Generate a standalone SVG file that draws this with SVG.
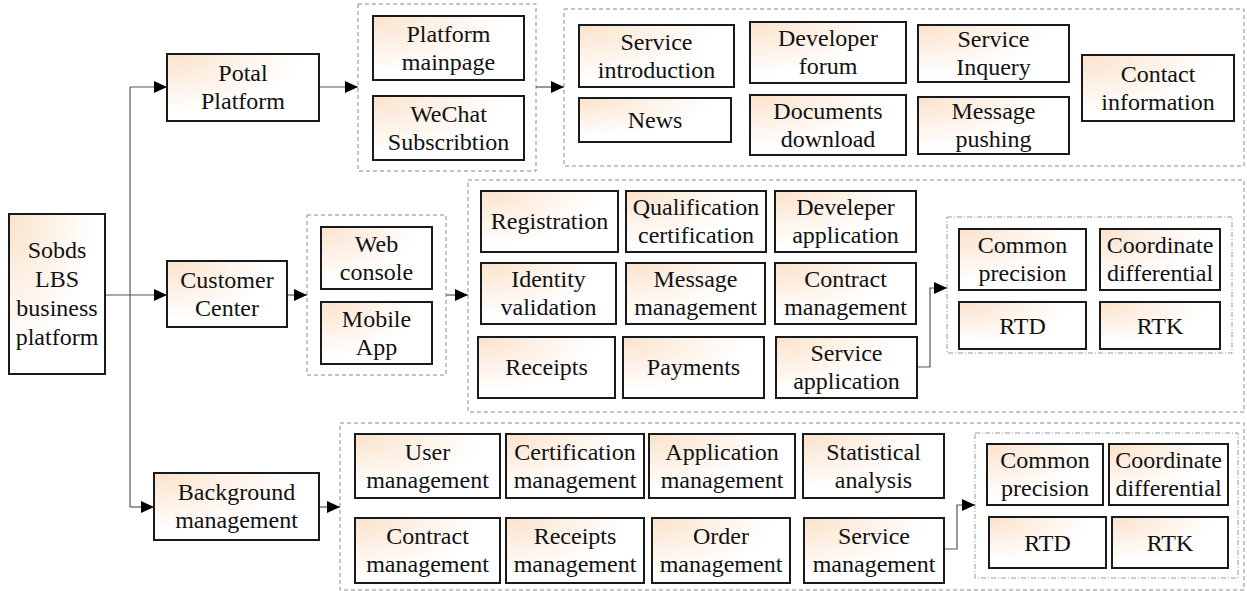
<svg xmlns="http://www.w3.org/2000/svg" width="1247" height="591" viewBox="0 0 1247 591">
  <defs>
    <radialGradient id="boxFill" cx="0" cy="0" r="1.1" fx="0" fy="0">
      <stop offset="0" stop-color="#fbe2ca"/>
      <stop offset="0.4" stop-color="#fdf1e6"/>
      <stop offset="0.8" stop-color="#ffffff"/>
    </radialGradient>
    <marker id="arrow" markerUnits="userSpaceOnUse" markerWidth="13" markerHeight="12" refX="13" refY="6" orient="auto">
      <path d="M0,0 L13,6 L0,12 z" fill="#000"/>
    </marker>
  </defs>
  <style>
    .box { fill: url(#boxFill); stroke: #1a1a1a; stroke-width: 2; }
    .grp { fill: none; stroke: #8a8a8a; stroke-width: 1; stroke-dasharray: 4 3; }
    .sub { fill: none; stroke: #9a9a9a; stroke-width: 1; stroke-dasharray: 5 2 1 2; }
    .lbl { font-family: "Liberation Serif", "Times New Roman", serif; font-size: 24px; fill: #111; text-anchor: middle; }
    .wire { fill: none; stroke: #555; stroke-width: 1.2; }
    .wire.arr { marker-end: url(#arrow); }
  </style>
  <rect width="1247" height="591" fill="#ffffff"/>

  <!-- group frames -->
  <g id="frames">
    <rect class="grp" x="358" y="4" width="178" height="167"/>
    <rect class="grp" x="564" y="9" width="680" height="157"/>
    <rect class="grp" x="307" y="215" width="139" height="160"/>
    <rect class="grp" x="468" y="180" width="776" height="232"/>
    <rect class="sub" x="947" y="217" width="285" height="136"/>
    <rect class="grp" x="340" y="423" width="904" height="167"/>
    <rect class="sub" x="975" y="433" width="263" height="145"/>
  </g>

  <!-- connectors -->
  <g id="connectors">
    <line class="wire" x1="130" y1="87" x2="130" y2="507"/>
    <line class="wire arr" x1="130" y1="87" x2="167" y2="87"/>
    <line class="wire arr" x1="105" y1="295" x2="167" y2="295"/>
    <line class="wire arr" x1="130" y1="507" x2="154" y2="507"/>
    <line class="wire arr" x1="319" y1="87" x2="358" y2="87"/>
    <line class="wire arr" x1="536" y1="87" x2="564" y2="87"/>
    <line class="wire arr" x1="287" y1="295" x2="307" y2="295"/>
    <line class="wire arr" x1="446" y1="295" x2="468" y2="295"/>
    <line class="wire arr" x1="319" y1="507" x2="340" y2="507"/>
    <polyline class="wire arr" points="917,367 930,367 930,288 947,288"/>
    <polyline class="wire arr" points="944,549 957,549 957,505 975,505"/>
  </g>

  <!-- root -->
  <g id="root">
    <rect class="box" x="9" y="214" width="96" height="160"/>
    <text class="lbl" x="57" y="258">Sobds</text>
    <text class="lbl" x="57" y="287">LBS</text>
    <text class="lbl" x="57" y="316">business</text>
    <text class="lbl" x="57" y="345">platform</text>
  </g>

  <!-- first level -->
  <g id="potal-platform">
    <rect class="box" x="167" y="54" width="152" height="67"/>
    <text class="lbl" x="243" y="81">Potal</text>
    <text class="lbl" x="243" y="109">Platform</text>
  </g>
  <g id="customer-center">
    <rect class="box" x="167" y="261" width="120" height="66"/>
    <text class="lbl" x="227" y="288">Customer</text>
    <text class="lbl" x="227" y="316">Center</text>
  </g>
  <g id="background-management">
    <rect class="box" x="154" y="473" width="165" height="67"/>
    <text class="lbl" x="236.5" y="500">Background</text>
    <text class="lbl" x="236.5" y="528">management</text>
  </g>

  <!-- portal channels -->
  <g id="platform-mainpage">
    <rect class="box" x="373" y="16" width="151" height="64"/>
    <text class="lbl" x="448.5" y="42">Platform</text>
    <text class="lbl" x="448.5" y="70">mainpage</text>
  </g>
  <g id="wechat-subscribtion">
    <rect class="box" x="373" y="96" width="151" height="64"/>
    <text class="lbl" x="448.5" y="122">WeChat</text>
    <text class="lbl" x="448.5" y="150">Subscribtion</text>
  </g>

  <!-- portal functions -->
  <g id="service-introduction">
    <rect class="box" x="579" y="25" width="155" height="62"/>
    <text class="lbl" x="656.5" y="50">Service</text>
    <text class="lbl" x="656.5" y="78">introduction</text>
  </g>
  <g id="news">
    <rect class="box" x="579" y="98" width="152" height="44"/>
    <text class="lbl" x="655" y="128">News</text>
  </g>
  <g id="developer-forum">
    <rect class="box" x="750" y="22" width="156" height="61"/>
    <text class="lbl" x="828" y="46">Developer</text>
    <text class="lbl" x="828" y="74">forum</text>
  </g>
  <g id="documents-download">
    <rect class="box" x="750" y="95" width="156" height="60"/>
    <text class="lbl" x="828" y="119">Documents</text>
    <text class="lbl" x="828" y="147">download</text>
  </g>
  <g id="service-inquery">
    <rect class="box" x="918" y="25" width="151" height="57"/>
    <text class="lbl" x="993.5" y="47">Service</text>
    <text class="lbl" x="993.5" y="75">Inquery</text>
  </g>
  <g id="message-pushing">
    <rect class="box" x="918" y="97" width="151" height="57"/>
    <text class="lbl" x="993.5" y="119">Message</text>
    <text class="lbl" x="993.5" y="147">pushing</text>
  </g>
  <g id="contact-information">
    <rect class="box" x="1082" y="55" width="152" height="66"/>
    <text class="lbl" x="1158" y="82">Contact</text>
    <text class="lbl" x="1158" y="110">information</text>
  </g>

  <!-- customer channels -->
  <g id="web-console">
    <rect class="box" x="321" y="227" width="111" height="62"/>
    <text class="lbl" x="376.5" y="252">Web</text>
    <text class="lbl" x="376.5" y="280">console</text>
  </g>
  <g id="mobile-app">
    <rect class="box" x="321" y="302" width="111" height="62"/>
    <text class="lbl" x="376.5" y="327">Mobile</text>
    <text class="lbl" x="376.5" y="355">App</text>
  </g>

  <!-- customer functions -->
  <g id="registration">
    <rect class="box" x="481" y="191" width="137" height="61"/>
    <text class="lbl" x="549.5" y="229">Registration</text>
  </g>
  <g id="qualification-certification">
    <rect class="box" x="626" y="191" width="140" height="61"/>
    <text class="lbl" x="696" y="215">Qualification</text>
    <text class="lbl" x="696" y="243">certification</text>
  </g>
  <g id="develeper-application">
    <rect class="box" x="775" y="191" width="141" height="61"/>
    <text class="lbl" x="845.5" y="215">Develeper</text>
    <text class="lbl" x="845.5" y="243">application</text>
  </g>
  <g id="identity-validation">
    <rect class="box" x="481" y="263" width="135" height="61"/>
    <text class="lbl" x="548.5" y="287">Identity</text>
    <text class="lbl" x="548.5" y="315">validation</text>
  </g>
  <g id="message-management">
    <rect class="box" x="626" y="263" width="139" height="61"/>
    <text class="lbl" x="695.5" y="287">Message</text>
    <text class="lbl" x="695.5" y="315">management</text>
  </g>
  <g id="contract-management-cc">
    <rect class="box" x="775" y="263" width="141" height="61"/>
    <text class="lbl" x="845.5" y="287">Contract</text>
    <text class="lbl" x="845.5" y="315">management</text>
  </g>
  <g id="receipts">
    <rect class="box" x="478" y="337" width="137" height="61"/>
    <text class="lbl" x="546.5" y="375">Receipts</text>
  </g>
  <g id="payments">
    <rect class="box" x="623" y="337" width="141" height="61"/>
    <text class="lbl" x="693.5" y="375">Payments</text>
  </g>
  <g id="service-application">
    <rect class="box" x="776" y="337" width="141" height="61"/>
    <text class="lbl" x="846.5" y="361">Service</text>
    <text class="lbl" x="846.5" y="389">application</text>
  </g>

  <!-- service types (customer) -->
  <g id="common-precision-cc">
    <rect class="box" x="959" y="229" width="127" height="61"/>
    <text class="lbl" x="1022.5" y="253">Common</text>
    <text class="lbl" x="1022.5" y="281">precision</text>
  </g>
  <g id="coordinate-differential-cc">
    <rect class="box" x="1100" y="229" width="120" height="61"/>
    <text class="lbl" x="1160" y="253">Coordinate</text>
    <text class="lbl" x="1160" y="281">differential</text>
  </g>
  <g id="rtd-cc">
    <rect class="box" x="959" y="302" width="127" height="47"/>
    <text class="lbl" x="1022.5" y="334">RTD</text>
  </g>
  <g id="rtk-cc">
    <rect class="box" x="1100" y="302" width="120" height="47"/>
    <text class="lbl" x="1160" y="334">RTK</text>
  </g>

  <!-- background functions -->
  <g id="user-management">
    <rect class="box" x="355" y="434" width="145" height="64"/>
    <text class="lbl" x="427.5" y="460">User</text>
    <text class="lbl" x="427.5" y="488">management</text>
  </g>
  <g id="certification-management">
    <rect class="box" x="506" y="434" width="138" height="64"/>
    <text class="lbl" x="575" y="460">Certification</text>
    <text class="lbl" x="575" y="488">management</text>
  </g>
  <g id="application-management">
    <rect class="box" x="649" y="434" width="146" height="64"/>
    <text class="lbl" x="722" y="460">Application</text>
    <text class="lbl" x="722" y="488">management</text>
  </g>
  <g id="statistical-analysis">
    <rect class="box" x="803" y="434" width="141" height="64"/>
    <text class="lbl" x="873.5" y="460">Statistical</text>
    <text class="lbl" x="873.5" y="488">analysis</text>
  </g>
  <g id="contract-management-bg">
    <rect class="box" x="355" y="518" width="145" height="65"/>
    <text class="lbl" x="427.5" y="544">Contract</text>
    <text class="lbl" x="427.5" y="572">management</text>
  </g>
  <g id="receipts-management">
    <rect class="box" x="506" y="518" width="138" height="65"/>
    <text class="lbl" x="575" y="544">Receipts</text>
    <text class="lbl" x="575" y="572">management</text>
  </g>
  <g id="order-management">
    <rect class="box" x="652" y="518" width="138" height="65"/>
    <text class="lbl" x="721" y="544">Order</text>
    <text class="lbl" x="721" y="572">management</text>
  </g>
  <g id="service-management">
    <rect class="box" x="804" y="518" width="140" height="65"/>
    <text class="lbl" x="874" y="544">Service</text>
    <text class="lbl" x="874" y="572">management</text>
  </g>

  <!-- service types (background) -->
  <g id="common-precision-bg">
    <rect class="box" x="987" y="444" width="116" height="61"/>
    <text class="lbl" x="1045" y="468">Common</text>
    <text class="lbl" x="1045" y="496">precision</text>
  </g>
  <g id="coordinate-differential-bg">
    <rect class="box" x="1109" y="444" width="119" height="61"/>
    <text class="lbl" x="1168.5" y="468">Coordinate</text>
    <text class="lbl" x="1168.5" y="496">differential</text>
  </g>
  <g id="rtd-bg">
    <rect class="box" x="989" y="517" width="117" height="51"/>
    <text class="lbl" x="1047.5" y="551">RTD</text>
  </g>
  <g id="rtk-bg">
    <rect class="box" x="1112" y="517" width="116" height="51"/>
    <text class="lbl" x="1170" y="551">RTK</text>
  </g>
</svg>
